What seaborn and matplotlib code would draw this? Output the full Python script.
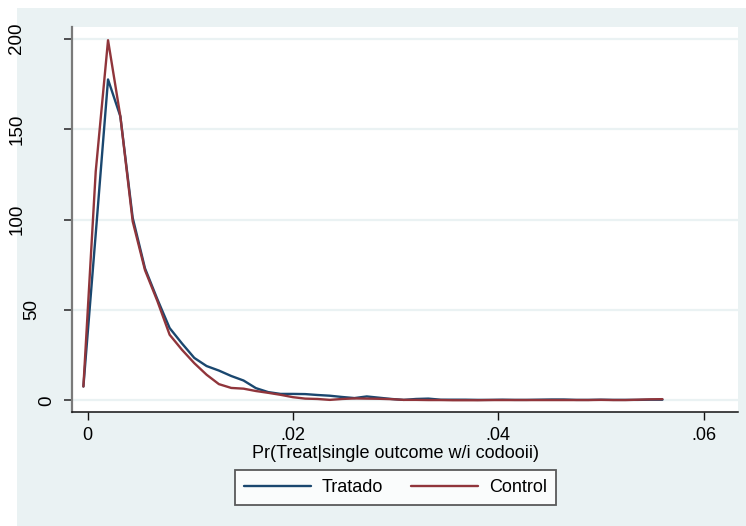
import numpy as np
import pandas as pd
import matplotlib
matplotlib.use("Agg")
import matplotlib.pyplot as plt
import matplotlib.transforms as mtransforms
from matplotlib.patches import Rectangle
import seaborn as sns

# ---- data ----
x_grid = [-0.0004, 0.0008, 0.0020, 0.0032, 0.0044, 0.0056, 0.0068, 0.0080,
          0.0092, 0.0104, 0.0116, 0.0128, 0.0140, 0.0152, 0.0164, 0.0176,
          0.0188, 0.0200, 0.0212, 0.0224, 0.0236, 0.0248, 0.0260, 0.0272,
          0.0284, 0.0296, 0.0308, 0.0320, 0.0332, 0.0344, 0.0356, 0.0368,
          0.0380, 0.0392, 0.0404, 0.0416, 0.0428, 0.0440, 0.0452, 0.0464,
          0.0476, 0.0488, 0.0500, 0.0512, 0.0524, 0.0536, 0.0548, 0.0560]
tratado = [7.7, 92.0, 177.4, 157.0, 101.0, 73.0, 56.0, 40.0,
           31.5, 23.5, 19.0, 16.5, 13.5, 11.0, 6.8, 4.6,
           3.6, 3.6, 3.5, 3.0, 2.6, 1.9, 1.3, 2.2,
           1.5, 0.8, 0.3, 0.8, 1.0, 0.4, 0.4, 0.4,
           0.3, 0.3, 0.4, 0.3, 0.3, 0.4, 0.5, 0.5,
           0.3, 0.3, 0.4, 0.3, 0.3, 0.3, 0.4, 0.4]
control = [7.7, 126.5, 199.1, 157.0, 99.0, 72.0, 55.0, 36.3,
           28.0, 20.6, 14.2, 9.0, 6.9, 6.5, 5.2, 4.2,
           3.1, 1.8, 1.0, 0.8, 0.3, 0.8, 1.1, 1.0,
           0.9, 0.7, 0.3, 0.3, 0.2, 0.2, 0.1, 0.1,
           0.1, 0.2, 0.2, 0.2, 0.2, 0.2, 0.2, 0.2,
           0.2, 0.2, 0.3, 0.2, 0.2, 0.4, 0.6, 0.7]
series_names = ["Tratado", "Control"]
x_ticks = [0, 0.02, 0.04, 0.06]
x_tick_labels = ["0", ".02", ".04", ".06"]
y_ticks = [0, 50, 100, 150, 200]
y_tick_labels = ["0", "50", "100", "150", "200"]
x_title = "Pr(Treat|single outcome w/i codooii)"

df = pd.DataFrame({
    "x": x_grid + x_grid,
    "y": tratado + control,
    "grupo": [series_names[0]] * len(x_grid) + [series_names[1]] * len(x_grid),
})

# ---- style ----
sns.set_style("white")
plt.rcParams["font.family"] = ["Liberation Sans", "DejaVu Sans"]
plt.rcParams["text.color"] = "black"
plt.rcParams["axes.labelcolor"] = "black"
plt.rcParams["xtick.color"] = "black"
plt.rcParams["ytick.color"] = "black"

BG = "#EAF2F3"
NAVY = "#1A476F"
MAROON = "#90353B"

fig = plt.figure(figsize=(7.46, 5.26), dpi=100, facecolor="white")
fig.patches.append(Rectangle((17 / 746, 0), 1 - 17 / 746, 1 - 8 / 526,
                             transform=fig.transFigure, facecolor=BG,
                             edgecolor="none", zorder=-10))

ax = fig.add_axes([72 / 746, 1 - 412 / 526, 666 / 746, 385 / 526])
ax.set_facecolor("white")

sns.lineplot(data=df, x="x", y="y", hue="grupo", hue_order=series_names,
             palette=[NAVY, MAROON], estimator=None, sort=False,
             linewidth=1.7, ax=ax, legend=True)

ax.set_xlim(-0.00151, 0.06336)
ax.set_ylim(-6.4, 206.4)

ax.set_xticks(x_ticks)
ax.set_xticklabels(x_tick_labels)
ax.set_yticks(y_ticks)
ax.set_yticklabels(y_tick_labels)

ax.grid(axis="y", color=BG, linewidth=1.6)
ax.grid(axis="x", visible=False)
ax.set_axisbelow(True)

for s in ["top", "right"]:
    ax.spines[s].set_visible(False)
ax.spines["left"].set_color("#7a7a7a")
ax.spines["left"].set_linewidth(1.6)
ax.spines["bottom"].set_color("#111111")
ax.spines["bottom"].set_linewidth(1.1)

ax.tick_params(axis="x", direction="out", length=6, width=1, color="#111111",
               labelsize=13, pad=5, bottom=True, labelcolor="black")
ax.tick_params(axis="y", direction="out", length=6, width=1.2, color="#333333",
               labelsize=13.5, pad=6, labelrotation=90, left=True,
               labelcolor="black")

ax.set_xlabel(x_title, fontsize=13, color="black")
ax.set_ylabel("")
ax.xaxis.set_label_coords((396 - 72) / 666, -0.085)

# legend
handles, labels = ax.get_legend_handles_labels()
leg = ax.legend(handles, labels, loc="center", ncol=2,
                bbox_to_anchor=(395.5 / 746, 1 - 487.5 / 526),
                bbox_transform=fig.transFigure, frameon=True, fancybox=False,
                edgecolor="#333333", fontsize=13, handlelength=3.7,
                handletextpad=0.6, columnspacing=1.55, borderpad=0.5)
leg.get_frame().set_linewidth(1.3)
leg.get_frame().set_facecolor("white")
for ln in leg.get_lines():
    ln.set_linewidth(1.7)
for t in leg.get_texts():
    t.set_color("black")

fig.canvas.draw()
for lab in ax.get_yticklabels():
    lab.set_verticalalignment("center")
    n = len(lab.get_text())
    off = mtransforms.ScaledTranslation(-(n - 1) * 15 / 100, 0, fig.dpi_scale_trans)
    lab.set_transform(lab.get_transform() + off)

fig.savefig("out.png", dpi=100, facecolor="white")
